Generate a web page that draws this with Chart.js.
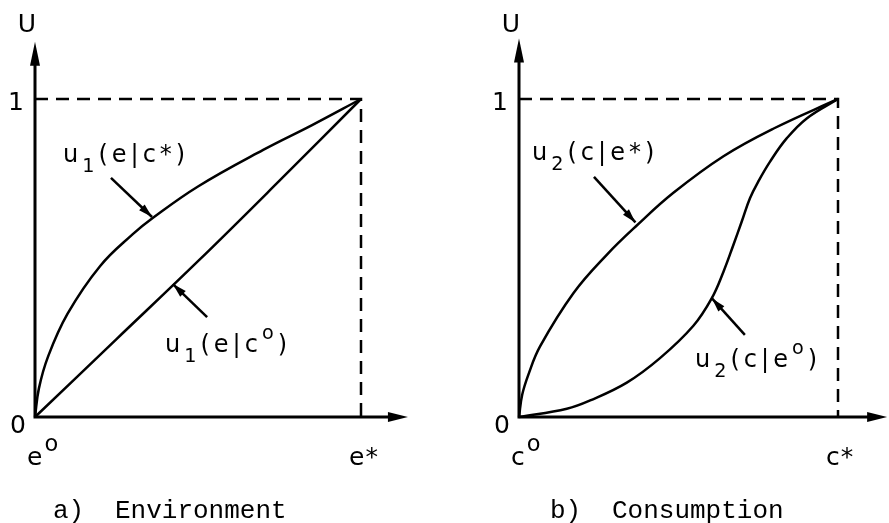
<!DOCTYPE html>
<html>
<head>
<meta charset="utf-8">
<script src="https://cdn.jsdelivr.net/npm/chart.js@4.4.0/dist/chart.umd.min.js"></script>
<style>
html, body{margin:0; padding:0; background:#fff;}
#wrap{position:relative; width:889px; height:523px;}
.panel{position:absolute; top:0; height:523px;}
</style>
</head>
<body>
<div id="wrap">
    <div class="panel" style="left:0; width:445px;"><canvas id="chart-env"></canvas></div>
    <div class="panel" style="left:445px; width:444px;"><canvas id="chart-cons"></canvas></div>
</div>
<script>
//DATA, both axes normalised 0..1
let envStarX = [0, 0.012, 0.04, 0.1, 0.2, 0.3, 0.36, 0.5, 0.7, 0.85, 1];
let envStarY = [0, 0.09, 0.19, 0.325, 0.475, 0.575, 0.625, 0.725, 0.84, 0.918, 1];

let envZeroX = [0, 0.25, 0.5, 0.75, 1];
let envZeroY = [0, 0.245, 0.49, 0.743, 1];

let consStarX = [0, 0.01, 0.03, 0.066, 0.171, 0.275, 0.37, 0.484, 0.641, 0.8, 1];
let consStarY = [0, 0.07, 0.135, 0.222, 0.39, 0.51, 0.603, 0.705, 0.82, 0.908, 1];

let consZeroX = [0, 0.15, 0.223, 0.338, 0.442, 0.546, 0.604, 0.641, 0.672, 0.698, 0.724, 0.75, 0.787, 0.839, 0.902, 1];
let consZeroY = [0, 0.026, 0.052, 0.108, 0.185, 0.286, 0.373, 0.457, 0.541, 0.614, 0.688, 0.74, 0.803, 0.876, 0.939, 1];

//dashed guide: U = 1 and x = x*
let guideX = [0, 1, 1];
let guideY = [1, 1, 0];

let tickMin = '0';
let tickMax = '1';
let axisName = 'U';

function toPoints(xs, ys){
    return xs.map((x, i) => ({x: x, y: ys[i]}));
}

const LABEL_FONT = '"DejaVu Sans", sans-serif';
const CAPTION_FONT = '"Liberation Mono", monospace';

//parts: [text, 'sub' | 'sup' | undefined]
function drawRich(ctx, parts, x, y, size, spacing, supScale = 0.8){
    ctx.letterSpacing = spacing + 'px';
    parts.forEach(p => {
        let s = p[1] === 'sup' ? size * supScale : (p[1] ? size * 0.8 : size);
        ctx.font = `${s}px ${LABEL_FONT}`;
        let dy = 0;
        if(p[1] === 'sub') dy = size * 0.4;
        if(p[1] === 'sup') dy = -size * 0.55;
        ctx.fillText(p[0], x, y + dy);
        x += ctx.measureText(p[0]).width;
    });
    ctx.letterSpacing = '0px';
}

function arrowHead(ctx, x1, y1, x2, y2, len, half){
    let a = Math.atan2(y2 - y1, x2 - x1);
    ctx.beginPath();
    ctx.moveTo(x2, y2);
    ctx.lineTo(x2 - len*Math.cos(a) + half*Math.sin(a), y2 - len*Math.sin(a) - half*Math.cos(a));
    ctx.lineTo(x2 - len*Math.cos(a) - half*Math.sin(a), y2 - len*Math.sin(a) + half*Math.cos(a));
    ctx.closePath();
    ctx.fill();
}

const decorPlugin = {
    id: 'decor',
    afterDraw(chart, args, opts){
        let ctx = chart.ctx;
        let sx = chart.scales.x, sy = chart.scales.y;
        let x0 = sx.getPixelForValue(0), y0 = sy.getPixelForValue(0);
        let x1 = sx.getPixelForValue(1), y1 = sy.getPixelForValue(1);
        let xEnd = sx.getPixelForValue(opts.xTip), yEnd = sy.getPixelForValue(opts.yTip);

        ctx.save();
        ctx.strokeStyle = '#000';
        ctx.fillStyle = '#000';
        ctx.lineWidth = 3;
        ctx.lineCap = 'butt';

        //axes with arrows
        ctx.beginPath();
        ctx.moveTo(x0, y0);
        ctx.lineTo(xEnd - 10, y0);
        ctx.moveTo(x0, y0 + 1.5);
        ctx.lineTo(x0, yEnd + 10);
        ctx.stroke();
        arrowHead(ctx, x0, y0, xEnd, y0, 20, 5);
        arrowHead(ctx, x0, y0, x0, yEnd, 24, 5);

        //leader arrows to the curves
        ctx.lineWidth = 2.5;
        opts.leaders.forEach(l => {
            let ax = sx.getPixelForValue(l[0]), ay = sy.getPixelForValue(l[1]);
            let bx = sx.getPixelForValue(l[2]), by = sy.getPixelForValue(l[3]);
            ctx.beginPath();
            ctx.moveTo(ax, ay);
            ctx.lineTo(bx, by);
            ctx.stroke();
            arrowHead(ctx, ax, ay, bx, by, 14, 4);
        });

        //curve labels
        ctx.textBaseline = 'alphabetic';
        ctx.textAlign = 'left';
        opts.labels.forEach(l => {
            drawRich(ctx, l.parts, sx.getPixelForValue(l.x), sy.getPixelForValue(l.y), 24, 4);
        });

        //axis texts
        ctx.textAlign = 'center';
        ctx.font = `25px ${LABEL_FONT}`;
        ctx.fillText(axisName, x0 - 8, 32);
        ctx.fillText(tickMax, x0 - 19, y1 + 11);
        ctx.fillText(tickMin, x0 - 17, y0 + 16);
        ctx.textAlign = 'left';
        drawRich(ctx, [[opts.varName], ['o', 'sup']], x0 - 8, y0 + 48, 25, 2, 0.9);
        drawRich(ctx, [[opts.varName], ['*']], x1 - 12, y0 + 48, 25, 1);

        //caption
        ctx.font = `26px ${CAPTION_FONT}`;
        ctx.fillText(opts.capTag, opts.capX, 518);
        ctx.fillText(opts.capText, opts.capX + 62, 518);
        ctx.restore();
    }
};

function makeChart(el, upper, lower, pad, decor){
    let common = {showLine: true, pointRadius: 0, borderColor: '#000', clip: false,
        tension: 0.4, fill: false};
    return new Chart(document.querySelector(el), {
        type: 'scatter',
        data: {
            datasets: [
                Object.assign({data: upper, borderWidth: 2.5}, common),
                Object.assign({data: lower, borderWidth: 2.5}, common),
                {data: toPoints(guideX, guideY), showLine: true, pointRadius: 0, borderColor: '#000',
                    borderWidth: 2.5, borderDash: [13, 8], clip: false, tension: 0}
            ]
        },
        options: {
            responsive: true,
            maintainAspectRatio: false,
            animation: false,
            layout: {padding: pad},
            scales: {
                x: {type: 'linear', min: 0, max: 1, display: false},
                y: {type: 'linear', min: 0, max: 1, display: false}
            },
            plugins: {
                legend: {display: false},
                tooltip: {enabled: false},
                decor: decor
            }
        },
        plugins: [decorPlugin]
    });
}

makeChart('#chart-env',
    toPoints(envStarX, envStarY),
    toPoints(envZeroX, envZeroY),
    {left: 35, right: 84, top: 99, bottom: 106},
    {
        xTip: 1.144, yTip: 1.18, varName: 'e',
        capTag: 'a)', capText: 'Environment', capX: 53,
        leaders: [[0.233, 0.752, 0.359, 0.629], [0.528, 0.314, 0.423, 0.418]],
        labels: [
            {x: 0.086, y: 0.802, parts: [['u'], ['1', 'sub'], ['(e|c*)']]},
            {x: 0.399, y: 0.204, parts: [['u'], ['1', 'sub'], ['(e|c'], ['o', 'sup'], [')']]}
        ]
    });

makeChart('#chart-cons',
    toPoints(consStarX, consStarY),
    toPoints(consZeroX, consZeroY),
    {left: 74, right: 51, top: 99, bottom: 106},
    {
        xTip: 1.154, yTip: 1.19, varName: 'c',
        capTag: 'b)', capText: 'Consumption', capX: 105,
        leaders: [[0.235, 0.755, 0.365, 0.612], [0.708, 0.258, 0.605, 0.373]],
        labels: [
            {x: 0.041, y: 0.808, parts: [['u'], ['2', 'sub'], ['(c|e*)']]},
            {x: 0.552, y: 0.157, parts: [['u'], ['2', 'sub'], ['(c|e'], ['o', 'sup'], [')']]}
        ]
    });
</script>
</body>
</html>
